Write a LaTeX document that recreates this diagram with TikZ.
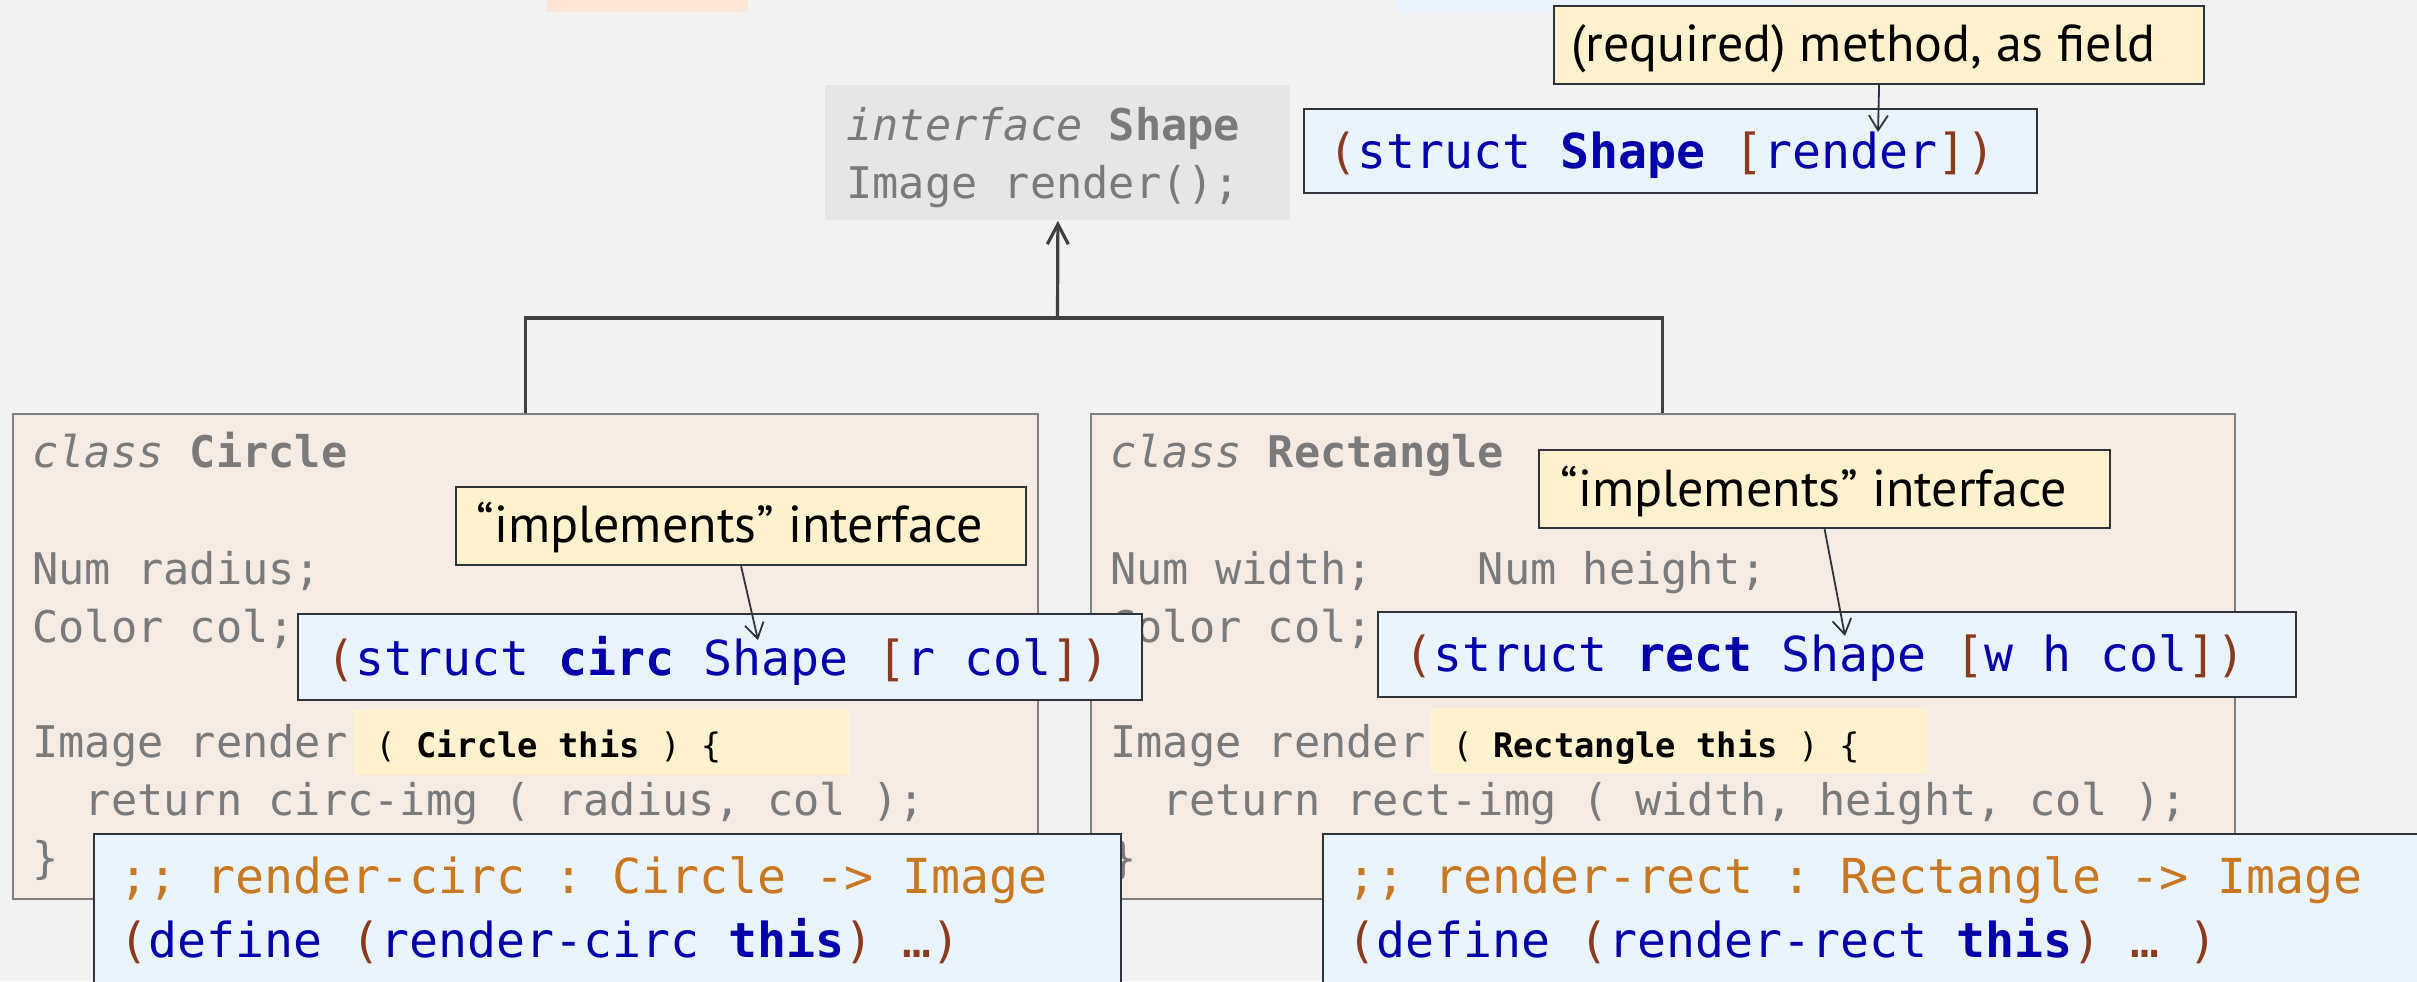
\documentclass[tikz,border=0pt]{standalone}
\usepackage{fontspec}
\setmonofont{DejaVu Sans Mono}
\newfontfamily\notefamily{PT Sans}
\usetikzlibrary{arrows.meta}

\definecolor{canvas}{HTML}{F2F2F2}
\definecolor{topfill}{HTML}{FBE5D6}
\definecolor{topblue}{HTML}{E9F3FD}
\definecolor{ifacefill}{HTML}{E6E6E6}
\definecolor{classfill}{HTML}{F5EBE2}
\definecolor{boxgray}{HTML}{7F7F7F}
\definecolor{codegray}{HTML}{7A7A7A}
\definecolor{notefill}{HTML}{FFF2CC}
\definecolor{edgedark}{HTML}{2F343B}
\definecolor{racketfill}{HTML}{EAF4FE}
\definecolor{keyblue}{HTML}{0000AA}
\definecolor{parenbrown}{HTML}{8B3A1E}
\definecolor{commentorange}{HTML}{C87820}
\definecolor{linegray}{HTML}{404040}

\newcommand{\javafont}{\fontsize{21.8}{29}\selectfont\ttfamily}
\newcommand{\racketfont}{\fontsize{24.1}{32}\selectfont\ttfamily}
\newcommand{\hifont}{\fontsize{16.9}{20}\selectfont\ttfamily}
\newcommand{\notefont}{\fontsize{26}{30}\selectfont\notefamily}
\newcommand{\rkparen}[1]{\textcolor{parenbrown}{#1}}
\newcommand{\rkword}[1]{\textcolor{keyblue}{#1}}
\newcommand{\rkbold}[1]{\textcolor{keyblue}{\bfseries #1}}

\tikzset{
  ifacebox/.style={fill=ifacefill, inner sep=0pt, anchor=north west},
  classbox/.style={draw=boxgray, fill=classfill, line width=0.8pt, inner sep=0pt, anchor=north west},
  hibox/.style={fill=notefill, inner sep=0pt, anchor=north west},
  notebox/.style={draw=edgedark, fill=notefill, line width=1.1pt, inner sep=0pt, anchor=north west},
  racketbox/.style={draw=edgedark, fill=racketfill, line width=1.1pt, inner sep=0pt, anchor=north west},
  javatext/.style={font=\javafont, text=codegray, anchor=base west, inner sep=0pt},
  hitext/.style={font=\hifont, text=black, anchor=base west, inner sep=0pt},
  rackettext/.style={font=\racketfont, text=keyblue, anchor=base west, inner sep=0pt},
  notetext/.style={font=\notefont, text=black, anchor=base west, inner sep=0pt},
  inherit/.style={draw=linegray, line width=1.6pt},
  notearrow/.style={draw=edgedark, line width=0.9pt, -{Straight Barb[length=7.5pt,width=9.5pt]}}
}

\begin{document}
\begin{tikzpicture}[x=0.5pt,y=0.5pt,yscale=-1]
\clip (0,0) rectangle (2417,981);
\fill[canvas] (0,0) rectangle (2417,981);

%Shape: Rectangle (cut off at the top)
\fill[topfill] (547,0) rectangle (748,12);
%Shape: Rectangle (cut off at the top)
\fill[topblue] (1397,0) rectangle (1793,12);

% interface
\node (iface) [ifacebox, minimum width=232.5pt, minimum height=67.5pt] at (825,85) {};
\node (ifacehead) [javatext] at (846,140) {\textit{interface} \textbf{Shape}};
\node (ifacerender) [javatext] at (846,198) {Image render();};

% classes
\node (circ) [classbox, minimum width=512.5pt, minimum height=242.5pt] at (12,413) {};
\node (rect) [classbox, minimum width=572pt, minimum height=242.5pt] at (1090,413) {};

% inheritance
\draw [inherit] (circ.north) -- ++(0,-95) -| (rect.north);
\coordinate (join) at (1057.5,318);
\draw [inherit, -{Straight Barb[length=10pt,width=10.5pt]}] (join) -- (iface.south);

% class Circle
\node (circhead) [javatext] at (32,467) {\textit{class} \textbf{Circle}};
\node (circradius) [javatext] at (32,584) {Num radius;};
\node (circcol) [javatext] at (32,642) {Color col;};
\node (circhi) [hibox, minimum width=247.5pt, minimum height=32.5pt] at (354,710) {};
\node (circrender) [javatext] at (32,757) {Image render};
\node (circthis) [hitext] at (375,757) {( \textbf{Circle this} ) \{};
\node (circreturn) [javatext] at (32,815) {~~return circ-img ( radius, col );};
\node (circclose) [javatext] at (32,873) {\}};

% class Rectangle
\node (recthead) [javatext] at (1110,467) {\textit{class} \textbf{Rectangle}};
\node (rectsize) [javatext] at (1110,584) {Num width;~~~~Num height;};
\node (rectcol) [javatext] at (1110,642) {Color col;};
\node (recthi) [hibox, minimum width=248pt, minimum height=32.5pt] at (1431,708) {};
\node (rectrender) [javatext] at (1110,757) {Image render};
\node (rectthis) [hitext] at (1452,757) {( \textbf{Rectangle this} ) \{};
\node (rectreturn) [javatext] at (1110,815) {~~return rect-img ( width, height, col );};
\node (rectclose) [javatext] at (1110,873) {\}};

% struct Shape
\node (shapestruct) [racketbox, minimum width=366.5pt, minimum height=42pt] at (1303,108) {};
\node (shapestructtext) [rackettext] at (1328,168) {\rkparen{(}\rkword{struct} \rkbold{Shape} \rkparen{[}\rkword{render}\rkparen{]}\rkparen{)}};
\node (req) [notebox, minimum width=325pt, minimum height=39pt] at (1553,5) {};
\node (reqtext) [notetext] at (1571,61) {(required) method, as field};

% structs
\node (circstruct) [racketbox, minimum width=422pt, minimum height=43pt] at (297,613) {};
\node (circstructtext) [rackettext] at (326,675) {\rkparen{(}\rkword{struct} \rkbold{circ} \rkword{Shape} \rkparen{[}\rkword{r col}\rkparen{]}\rkparen{)}};
\node (rectstruct) [racketbox, minimum width=459pt, minimum height=42.5pt] at (1377,611) {};
\node (rectstructtext) [rackettext] at (1404,671) {\rkparen{(}\rkword{struct} \rkbold{rect} \rkword{Shape} \rkparen{[}\rkword{w h col}\rkparen{]}\rkparen{)}};

% functions
\node (circdef) [racketbox, minimum width=513.5pt, minimum height=150pt] at (93,833) {};
\node (circsig) [rackettext, text=commentorange] at (119,893) {;; render-circ : Circle -> Image};
\node (circdeftext) [rackettext] at (119,957) {\rkparen{(}\rkword{define} \rkparen{(}\rkword{render-circ} \rkbold{this}\rkparen{)} \rkparen{…)}};
\node (rectdef) [racketbox, minimum width=600pt, minimum height=150pt] at (1322,833) {};
\node (rectsig) [rackettext, text=commentorange] at (1347,893) {;; render-rect : Rectangle -> Image};
\node (rectdeftext) [rackettext] at (1347,957) {\rkparen{(}\rkword{define} \rkparen{(}\rkword{render-rect} \rkbold{this}\rkparen{)} \rkparen{… )}};

% notes
\node (circimpl) [notebox, minimum width=285pt, minimum height=39pt] at (455,486) {};
\node (circimpltext) [notetext] at (476,542) {“implements” interface};
\node (rectimpl) [notebox, minimum width=285.5pt, minimum height=39pt] at (1538,449) {};
\node (rectimpltext) [notetext] at (1560,506) {“implements” interface};

\coordinate (reqtip) at (1878,132);
\coordinate (circtip) at (758,640);
\coordinate (recttip) at (1845,636);
\draw [notearrow] (req.south) -- (reqtip);
\draw [notearrow] (circimpl.south) -- (circtip);
\draw [notearrow] (rectimpl.south) -- (recttip);

\end{tikzpicture}
\end{document}
